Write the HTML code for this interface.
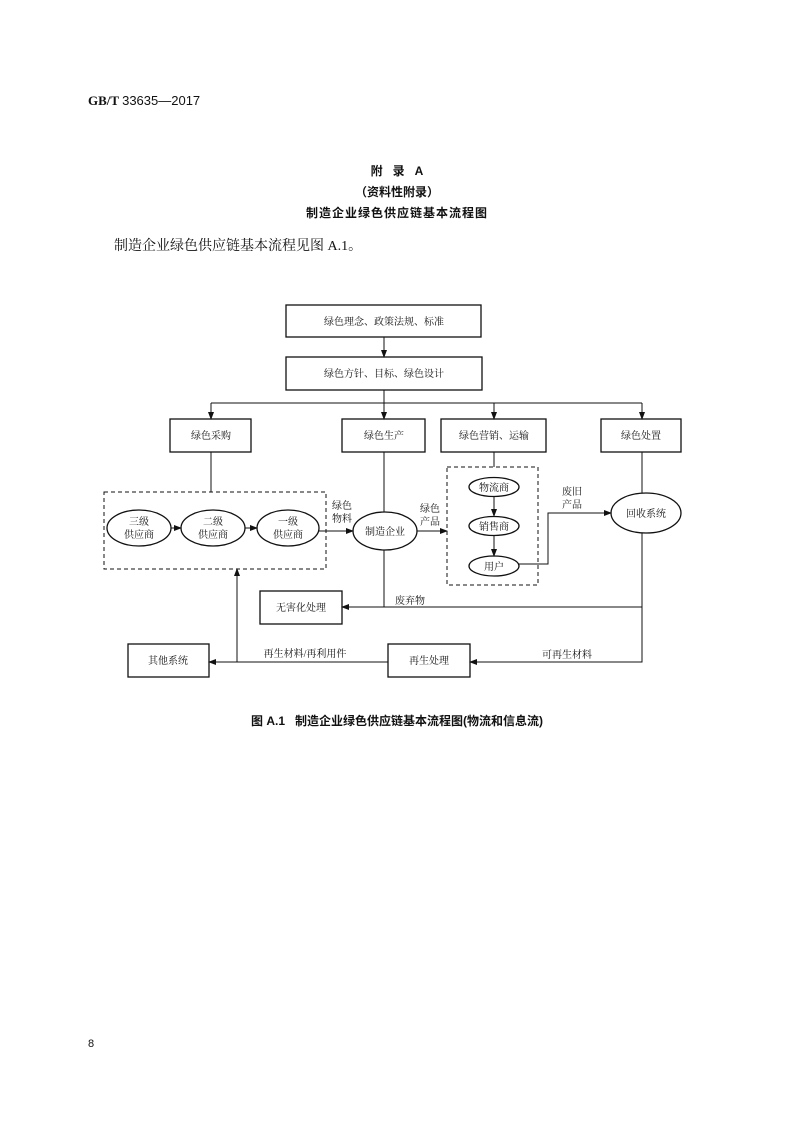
<!DOCTYPE html>
<html><head><meta charset="utf-8"><style>
html,body{margin:0;padding:0;background:#fff}
svg{display:block}
text{font-family:"Liberation Serif","Noto Serif CJK SC","Noto Sans CJK SC",serif;fill:#111}
.b{font-family:"Liberation Sans","Noto Sans CJK SC",sans-serif;font-weight:bold}
</style></head><body>
<svg width="794" height="1122" viewBox="0 0 794 1122" xmlns="http://www.w3.org/2000/svg">
<defs><marker id="a" markerWidth="8" markerHeight="6" refX="7" refY="3" orient="auto" markerUnits="userSpaceOnUse"><path d="M0,0 L8,3 L0,6 z" fill="#111"/></marker></defs>
<text x="88" y="105" font-size="13" class="b" style="font-family:'Liberation Serif',serif">GB/T <tspan style="font-family:'Liberation Sans',sans-serif;font-weight:normal">33635—2017</tspan></text>
<text x="397" y="175" font-size="12" class="b" text-anchor="middle" xml:space="preserve">附   录   A</text>
<text x="397" y="196" font-size="12" class="b" text-anchor="middle">（资料性附录）</text>
<text x="397" y="217" font-size="12" class="b" text-anchor="middle" letter-spacing="1">制造企业绿色供应链基本流程图</text>
<text x="114" y="250" font-size="14">制造企业绿色供应链基本流程见图 A.1。</text>
<g stroke="#111" stroke-width="1.3" fill="none">
<rect x="286" y="305" width="195" height="32"/>
<rect x="286" y="357" width="196" height="33"/>
<rect x="170" y="419" width="81" height="33"/>
<rect x="342" y="419" width="83" height="33"/>
<rect x="441" y="419" width="105" height="33"/>
<rect x="601" y="419" width="80" height="33"/>
<rect x="104" y="492" width="222" height="77" stroke-dasharray="4,3" stroke-width="1"/>
<rect x="447" y="467" width="91" height="118" stroke-dasharray="4,3" stroke-width="1"/>
<ellipse cx="139" cy="528" rx="32" ry="18"/>
<ellipse cx="213" cy="528" rx="32" ry="18"/>
<ellipse cx="288" cy="528" rx="31" ry="18"/>
<ellipse cx="385" cy="531" rx="32" ry="19"/>
<ellipse cx="494" cy="487" rx="25" ry="9.5"/>
<ellipse cx="494" cy="526" rx="25" ry="9.5"/>
<ellipse cx="494" cy="566" rx="25" ry="10"/>
<ellipse cx="646" cy="513" rx="35" ry="20"/>
<rect x="260" y="591" width="82" height="33"/>
<rect x="128" y="644" width="81" height="33"/>
<rect x="388" y="644" width="82" height="33"/>
</g>
<g stroke="#111" stroke-width="1" fill="none">
<line x1="384" y1="337" x2="384" y2="357" marker-end="url(#a)"/>
<line x1="384" y1="390" x2="384" y2="419" marker-end="url(#a)"/>
<line x1="211" y1="403" x2="642" y2="403"/>
<line x1="211" y1="403" x2="211" y2="419" marker-end="url(#a)"/>
<line x1="494" y1="403" x2="494" y2="419" marker-end="url(#a)"/>
<line x1="642" y1="403" x2="642" y2="419" marker-end="url(#a)"/>
<line x1="211" y1="452" x2="211" y2="492"/>
<line x1="384" y1="452" x2="384" y2="512"/>
<line x1="494" y1="452" x2="494" y2="467"/>
<line x1="642" y1="452" x2="642" y2="493"/>
<line x1="171" y1="528" x2="181" y2="528" marker-end="url(#a)"/>
<line x1="245" y1="528" x2="257" y2="528" marker-end="url(#a)"/>
<line x1="319" y1="531" x2="353" y2="531" marker-end="url(#a)"/>
<line x1="417" y1="531" x2="447" y2="531" marker-end="url(#a)"/>
<line x1="494" y1="497" x2="494" y2="516" marker-end="url(#a)"/>
<line x1="494" y1="536" x2="494" y2="556" marker-end="url(#a)"/>
<polyline points="519,564 548,564 548,513 611,513" marker-end="url(#a)"/>
<line x1="384" y1="550" x2="384" y2="607"/>
<polyline points="642,533 642,607 342,607" marker-end="url(#a)"/>
<polyline points="642,607 642,662 470,662" marker-end="url(#a)"/>
<line x1="388" y1="662" x2="209" y2="662" marker-end="url(#a)"/>
<line x1="237" y1="662" x2="237" y2="569" marker-end="url(#a)"/>
</g>
<g font-size="10" text-anchor="middle">
<text x="384" y="325">绿色理念、政策法规、标准</text>
<text x="384" y="377">绿色方针、目标、绿色设计</text>
<text x="211" y="439">绿色采购</text>
<text x="384" y="439">绿色生产</text>
<text x="494" y="439">绿色营销、运输</text>
<text x="641" y="439">绿色处置</text>
<text x="139" y="525">三级</text><text x="139" y="538">供应商</text>
<text x="213" y="525">二级</text><text x="213" y="538">供应商</text>
<text x="288" y="525">一级</text><text x="288" y="538">供应商</text>
<text x="385" y="535">制造企业</text>
<text x="342" y="509">绿色</text><text x="342" y="522">物料</text>
<text x="430" y="512">绿色</text><text x="430" y="525">产品</text>
<text x="494" y="491">物流商</text>
<text x="494" y="530">销售商</text>
<text x="494" y="570">用户</text>
<text x="572" y="495">废旧</text><text x="572" y="508">产品</text>
<text x="646" y="517">回收系统</text>
<text x="301" y="611">无害化处理</text>
<text x="410" y="604">废弃物</text>
<text x="168" y="664">其他系统</text>
<text x="429" y="664">再生处理</text>
<text x="305" y="657">再生材料/再利用件</text>
<text x="567" y="658">可再生材料</text>
</g>
<text x="397" y="725" font-size="12" class="b" text-anchor="middle" xml:space="preserve">图 A.1   制造企业绿色供应链基本流程图(物流和信息流)</text>
<text x="88" y="1047" font-size="11" style="font-family:'Liberation Sans',sans-serif">8</text>
</svg>
</body></html>
